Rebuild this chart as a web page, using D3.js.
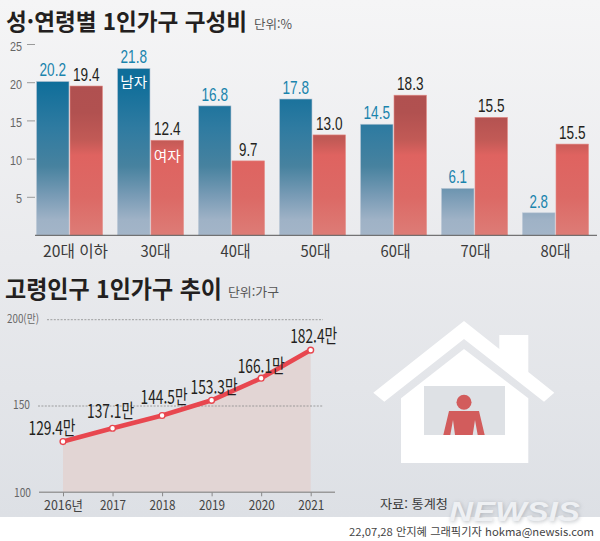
<!DOCTYPE html>
<html lang="ko"><head><meta charset="utf-8">
<script src="https://cdn.jsdelivr.net/npm/d3@7"></script>
<style>html,body{margin:0;padding:0;background:#fff}svg{display:block}text{font-family:"Noto Sans CJK KR","Liberation Sans",sans-serif}</style>
</head><body><svg id="c" width="600" height="541"></svg>
<script>
const ageGroups = ["20대 이하","30대","40대","50대","60대","70대","80대"];
const menValues = [20.1,21.8,16.9,17.8,14.5,6.1,2.9];
const menLabels = ["20.2","21.8","16.8","17.8","14.5","6.1","2.8"];
const womenValues = [19.5,12.4,9.7,13.1,18.3,15.4,11.9];
const womenLabels = ["19.4","12.4","9.7","13.0","18.3","15.5","15.5"];
const barTicks = [5,10,15,20,25];
const years = ["2016년","2017","2018","2019","2020","2021"];
const households = [129.4,137.1,144.5,153.3,166.1,182.4];
const householdLabels = ["129.4만","137.1만","144.5만","153.3만","166.1만","182.4만"];
const labelShiftX = [-11,-2,2,2.5,0,3];
const labelShiftY = [-6.5,-10,-11.5,-6,-5,-7];
const lineTicks = [100,150,200];

const svg = d3.select("#c");
const defs = svg.append("defs");
function grad(id,y1,y2,stops){
  const g = defs.append("linearGradient").attr("id",id).attr("gradientUnits","userSpaceOnUse")
    .attr("x1",0).attr("x2",0).attr("y1",y1).attr("y2",y2);
  stops.forEach(s=>g.append("stop").attr("offset",s[0]).attr("stop-color",s[1]));
}
grad("bg",0,517,[[0,"#f5f5f6"],[.5,"#e9eaed"],[1,"#dde0e5"]]);
grad("men",82,235,[[0,"#0f6e9a"],[.3,"#2f7ba1"],[.55,"#47829f"],[.75,"#7a9cb6"],[.9,"#9fb2c6"],[1,"#a3b5c8"]]);
grad("women",82,235,[[0,"#b05050"],[.2,"#b15150"],[.38,"#c25a56"],[.48,"#df6360"],[.75,"#dc6965"],[1,"#dd7c76"]]);
const blur = defs.append("filter").attr("id","sh").attr("x","-10%").attr("y","-30%").attr("width","120%").attr("height","160%");
blur.append("feGaussianBlur").attr("stdDeviation",2.2);

svg.append("rect").attr("width",600).attr("height",517).attr("fill","url(#bg)");

function fit(sel,w){ sel.attr("textLength",w).attr("lengthAdjust","spacingAndGlyphs"); return sel; }
function txt(s,x,y,size,color,w,opts={}){
  const t = svg.append("text").attr("x",x).attr("y",y).attr("font-size",size).attr("fill",color)
    .attr("text-anchor",opts.anchor||"start").attr("font-weight",opts.weight||400).text(s);
  if(w) fit(t,w);
  return t;
}

txt("성·연령별 1인가구 구성비",6,30,23,"#231f20",241,{weight:700});
txt("단위:%",254,29,12.5,"#555",38);
txt("고령인구 1인가구 추이",5,298,23.4,"#231f20",217,{weight:700});
txt("단위:가구",228,297,12.5,"#555",51);

// ---------- bars
const y = d3.scaleLinear().domain([0,25]).range([235,44]);
const x0 = d3.scaleBand().domain(ageGroups).range([29,596]).paddingInner(15/81).paddingOuter(15/162);
const x1 = d3.scaleBand().domain(["m","f"]).range([0,x0.bandwidth()]).paddingInner(.03);
const xLab = d3.scalePoint().domain(ageGroups).range([75.5,555.5]);

const yAxis = svg.append("g").attr("transform","translate(35,0)")
  .call(d3.axisLeft(y).tickValues(barTicks).tickSize(8).tickPadding(5));
yAxis.select(".domain").remove();
yAxis.selectAll("line").attr("stroke","#9a9a9a");
yAxis.selectAll("text").attr("font-size",12).attr("fill","#666").attr("dy","0.5em")
  .style("font-family","Liberation Sans").attr("lengthAdjust","spacingAndGlyphs").attr("textLength",d=>d<10?6:12);

const groups = svg.append("g").selectAll("g").data(ageGroups).join("g")
  .attr("transform",d=>`translate(${x0(d)},0)`);
function bars(key,vals,labs,fill,edge,labCol){
  groups.append("rect").attr("x",x1(key)).attr("width",x1.bandwidth())
    .attr("y",(d,i)=>y(vals[i])).attr("height",(d,i)=>235-y(vals[i]))
    .attr("fill",fill).attr("stroke",edge).attr("stroke-width",.6);
  groups.append("text").attr("x",x1(key)+x1.bandwidth()/2).attr("y",(d,i)=>y(vals[i])-5)
    .attr("text-anchor","middle").attr("font-size",18.5).attr("fill",labCol)
    .style("font-family","Liberation Sans").attr("lengthAdjust","spacingAndGlyphs")
    .attr("textLength",(d,i)=>labs[i].length>3?26.5:18.5)
    .text((d,i)=>labs[i]);
}
bars("m",menValues,menLabels,"url(#men)","#b9c7d5","#1a84ad");
bars("f",womenValues,womenLabels,"url(#women)","#e58d88","#231f20");

svg.append("line").attr("x1",35).attr("x2",597).attr("y1",235.3).attr("y2",235.3).attr("stroke","#555").attr("stroke-width",1);

svg.append("g").selectAll("text").data(ageGroups).join("text")
  .attr("x",d=>xLab(d)).attr("y",256.5).attr("text-anchor","middle").attr("font-size",15.5).attr("fill","#3a3a3a")
  .text(d=>d).attr("textLength",d=>d.length>3?65:30).attr("lengthAdjust","spacingAndGlyphs");

txt("남자",x0("30대")+x1("m")+x1.bandwidth()/2,87,14,"#fff",27,{anchor:"middle"});
txt("여자",x0("30대")+x1("f")+x1.bandwidth()/2,161,14,"#fff",27,{anchor:"middle"});

// ---------- line
const lx = d3.scalePoint().domain(years).range([63,310.7]);
const ly = d3.scaleLinear().domain([100,200]).range([492.3,319.7]);
svg.append("path").attr("d",d3.area().x((d,i)=>lx(years[i])).y0(ly(100)).y1(d=>ly(d))(households)).attr("fill","#e2d5d4");

const gridStart = {200:47,150:38};
lineTicks.slice(1).forEach(t=>{
  svg.append("line").attr("x1",gridStart[t]).attr("x2",323).attr("y1",ly(t)).attr("y2",ly(t))
    .attr("stroke","#8a8a8a").attr("stroke-width",.8).attr("stroke-dasharray","2 1.4");
});
const lAxis = svg.append("g").attr("transform",`translate(0,${ly(100)})`)
  .call(d3.axisBottom(lx).tickSize(4).tickPadding(6).tickSizeOuter(0));
lAxis.select(".domain").attr("d","M39,0H335").attr("stroke","#9a9a9a").attr("stroke-width",1.5);
lAxis.selectAll("line").attr("stroke","#888");
lAxis.selectAll("text").attr("font-size",13).attr("fill","#444").attr("y",18).attr("dy",null)
  .attr("lengthAdjust","spacingAndGlyphs").attr("textLength",d=>d.length>4?39:26);

txt("200(만)",7,323,11.5,"#666",32);
txt("150",13,409,12,"#666",17);
txt("100",14,497,12,"#666",17);

svg.append("path").datum(households).attr("fill","none").attr("stroke","#e8474f").attr("stroke-width",4.6)
  .attr("d",d3.line().x((d,i)=>lx(years[i])).y(d=>ly(d)));
svg.append("g").selectAll("circle").data(households).join("circle")
  .attr("cx",(d,i)=>lx(years[i])).attr("cy",d=>ly(d)).attr("r",2.9)
  .attr("fill","#fff").attr("stroke","#e8474f").attr("stroke-width",1.4);
svg.append("g").selectAll("text").data(households).join("text")
  .attr("x",(d,i)=>lx(years[i])+labelShiftX[i]).attr("y",(d,i)=>ly(d)+labelShiftY[i])
  .attr("text-anchor","middle").attr("font-size",19).attr("fill","#231f20")
  .attr("textLength",47).attr("lengthAdjust","spacingAndGlyphs")
  .text((d,i)=>householdLabels[i]);

// ---------- house icon
const house = svg.append("g");
const P = p=>"M"+p.map(q=>q.join(",")).join("L")+"Z";
house.append("path").attr("fill","#fff").attr("d",P([[464,321],[499.3,349],[499.3,335],[528.3,335],[528.3,372],[554.3,392.7],[544,401.7],[464,339],[384.3,401.7],[373.3,392.7]]));
house.append("path").attr("fill","#fff").attr("d",P([[464,349],[528.3,398.3],[528.3,463],[401,463],[401,398.3]]));
house.append("rect").attr("x",424).attr("y",386).attr("width",81).attr("height",49).attr("fill","#dee1e5");
house.append("circle").attr("cx",464).attr("cy",402.3).attr("r",7.5).attr("fill","#d25c5c");
house.append("path").attr("fill","#d25c5c").attr("d",P([[449,411],[479,411],[484.7,435],[477.7,435],[475,420],[472.7,435],[455,435],[453,420],[450.3,435],[443.3,435]]));

txt("자료: 통계청",380,509,12.5,"#3a3a3a",68);

// ---------- footer
svg.append("rect").attr("y",518).attr("width",600).attr("height",23).attr("fill","#fff");
const mark = (fill,filter,dx)=>{
  const t = svg.append("text").attr("x",449+dx).attr("y",521+dx).attr("font-size",27).attr("font-weight",700).attr("font-style","italic")
    .style("font-family","Liberation Sans").attr("fill",fill).attr("textLength",131).attr("lengthAdjust","spacingAndGlyphs").text("NEWSIS");
  if(filter) t.attr("filter","url(#sh)").attr("opacity",.7);
};
mark("#9aa0a8",true,1);
mark("#eef0f3",false,0);
txt("22,07,28 안지혜 그래픽기자 hokma@newsis.com",349,536,11,"#444",245);
</script></body></html>
